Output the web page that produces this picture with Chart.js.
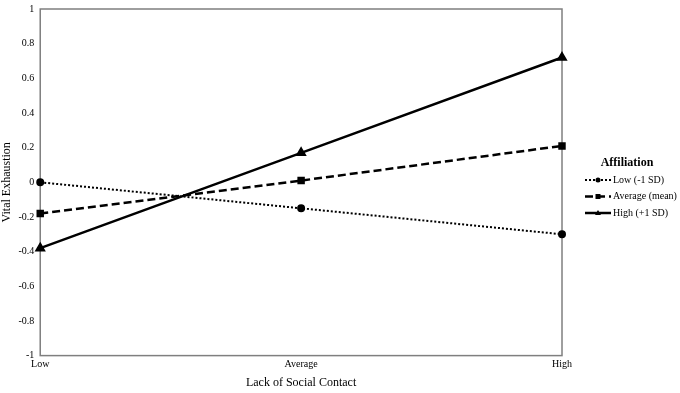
<!DOCTYPE html>
<html>
<head>
<meta charset="utf-8">
<script src="https://cdn.jsdelivr.net/npm/chart.js@4"></script>
<style>
  html, body { margin: 0; padding: 0; background: #fff; }
  #wrap { width: 680px; height: 393px; }
</style>
</head>
<body>
<div id="wrap"><canvas id="chart"></canvas></div>
<script>
const categories = ['Low', 'Average', 'High'];
const lowAffiliation = [0.0, -0.15, -0.30];
const averageAffiliation = [-0.18, 0.01, 0.21];
const highAffiliation = [-0.38, 0.17, 0.72];
const seriesNames = ['Low (-1 SD)', 'Average (mean)', 'High (+1 SD)'];

const serif = '"Liberation Serif", "Times New Roman", serif';

// box round the plot area and the legend on the right
const framePlugin = {
    id: 'frame',
    beforeDatasetsDraw(chart) {
        const a = chart.chartArea;
        const ctx = chart.ctx;
        ctx.save();
        ctx.strokeStyle = '#7f7f7f';
        ctx.lineWidth = 1.5;
        ctx.strokeRect(a.left, a.top, a.right - a.left, a.bottom - a.top);
        ctx.restore();
    },
    afterDraw(chart) {
        const ctx = chart.ctx;
        ctx.save();
        ctx.fillStyle = '#000';
        ctx.font = 'bold 12px ' + serif;
        ctx.textAlign = 'center';
        ctx.textBaseline = 'middle';
        ctx.fillText('Affiliation', 627, 163);
        ctx.font = '10px ' + serif;
        ctx.textAlign = 'left';
        chart.data.datasets.forEach((ds, i) => {
            const y = 180 + i * 16.5;
            ctx.strokeStyle = '#000';
            ctx.lineWidth = ds.borderWidth;
            ctx.setLineDash(ds.borderDash || []);
            ctx.beginPath();
            ctx.moveTo(585, y);
            ctx.lineTo(611, y);
            ctx.stroke();
            ctx.setLineDash([]);
            ctx.fillStyle = '#000';
            ctx.beginPath();
            if (ds.pointStyle === 'circle') {
                ctx.arc(598, y, 2.5, 0, Math.PI * 2);
            } else if (ds.pointStyle === 'rect') {
                ctx.rect(595.5, y - 2.5, 5, 5);
            } else {
                ctx.moveTo(598, y - 3);
                ctx.lineTo(601, y + 2);
                ctx.lineTo(595, y + 2);
                ctx.closePath();
            }
            ctx.fill();
            ctx.fillText(ds.label, 613, y);
        });
        ctx.restore();
    }
};

new Chart(document.getElementById('chart'), {
    type: 'line',
    data: {
        labels: categories,
        datasets: [
            {
                label: seriesNames[0],
                data: lowAffiliation,
                borderColor: '#000',
                backgroundColor: '#000',
                borderWidth: 2,
                borderDash: [2, 2],
                pointStyle: 'circle',
                pointRadius: 3,
            },
            {
                label: seriesNames[1],
                data: averageAffiliation,
                borderColor: '#000',
                backgroundColor: '#000',
                borderWidth: 2.5,
                borderDash: [8, 4],
                pointStyle: 'rect',
                pointRadius: 3.5,
            },
            {
                label: seriesNames[2],
                data: highAffiliation,
                borderColor: '#000',
                backgroundColor: '#000',
                borderWidth: 2.5,
                pointStyle: 'triangle',
                pointRadius: 4,
            },
        ],
    },
    options: {
        responsive: true,
        maintainAspectRatio: false,
        animation: false,
        layout: {
            padding: { top: 2, right: 118, bottom: 0, left: 0 },
        },
        plugins: {
            legend: { display: false },
            tooltip: { enabled: false },
        },
        scales: {
            x: {
                offset: false,
                grid: { display: false, drawTicks: false },
                border: { display: false },
                ticks: {
                    color: '#000',
                    padding: 3,
                    maxRotation: 0,
                    font: { family: serif, size: 10 },
                },
                title: {
                    display: true,
                    text: 'Lack of Social Contact',
                    color: '#000',
                    font: { family: serif, size: 12 },
                    padding: { top: 2, bottom: 3 },
                },
            },
            y: {
                min: -1,
                max: 1,
                grid: { display: false, drawOnChartArea: false, drawTicks: true, tickLength: 3, color: '#7f7f7f' },
                border: { display: false },
                ticks: {
                    stepSize: 0.2,
                    color: '#000',
                    padding: 3,
                    font: { family: serif, size: 10 },
                    callback: (v) => Number(v.toFixed(1)).toString(),
                },
                title: {
                    display: true,
                    text: 'Vital Exhaustion',
                    color: '#000',
                    font: { family: serif, size: 12 },
                    padding: { top: 0, bottom: 1 },
                },
            },
        },
    },
    plugins: [framePlugin],
});
</script>
</body>
</html>
